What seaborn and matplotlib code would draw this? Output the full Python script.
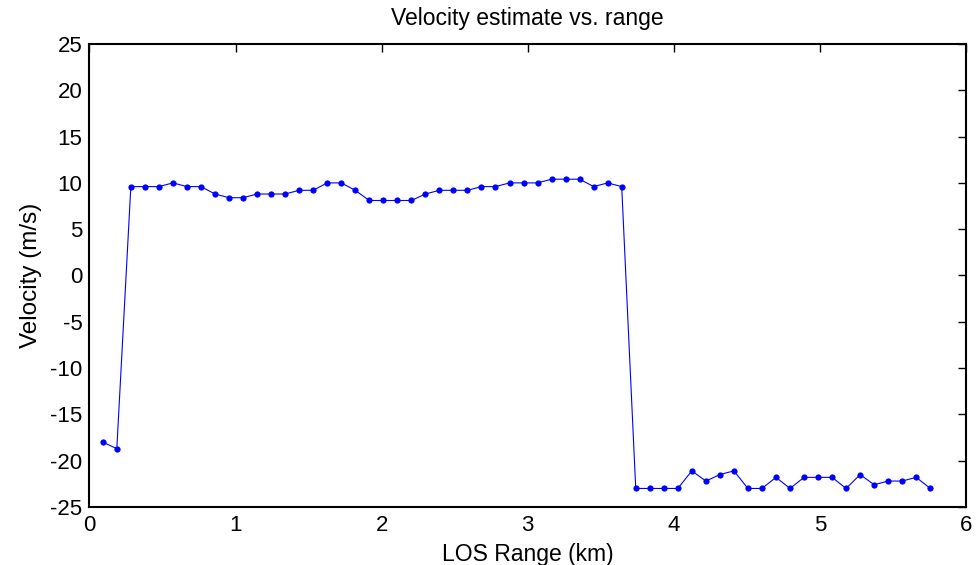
import matplotlib
matplotlib.use("Agg")
import matplotlib.pyplot as plt
import seaborn as sns
import pandas as pd

# LOS range (km) of each range gate
range_km = [0.091, 0.187, 0.283, 0.379, 0.475, 0.571, 0.667, 0.763, 0.859, 0.955,
            1.051, 1.147, 1.243, 1.339, 1.435, 1.531, 1.627, 1.723, 1.819, 1.915,
            2.011, 2.107, 2.203, 2.299, 2.395, 2.491, 2.587, 2.683, 2.779, 2.875,
            2.971, 3.067, 3.163, 3.259, 3.355, 3.451, 3.547, 3.643, 3.739, 3.835,
            3.931, 4.027, 4.123, 4.219, 4.315, 4.411, 4.507, 4.603, 4.699, 4.795,
            4.891, 4.987, 5.083, 5.179, 5.275, 5.371, 5.467, 5.563, 5.659, 5.755]

# Velocity estimate (m/s)
velocity = [-18.0, -18.7, 9.6, 9.6, 9.6, 10.0, 9.6, 9.6, 8.8, 8.4,
            8.4, 8.8, 8.8, 8.8, 9.2, 9.2, 10.0, 10.0, 9.2, 8.1,
            8.1, 8.1, 8.1, 8.8, 9.2, 9.2, 9.2, 9.6, 9.6, 10.0,
            10.0, 10.0, 10.4, 10.4, 10.4, 9.6, 10.0, 9.6, -23.0, -23.0,
            -23.0, -23.0, -21.1, -22.2, -21.5, -21.1, -23.0, -23.0, -21.8, -23.0,
            -21.8, -21.8, -21.8, -23.0, -21.5, -22.6, -22.2, -22.2, -21.8, -23.0]

x_ticks = [0, 1, 2, 3, 4, 5, 6]
y_ticks = [-25, -20, -15, -10, -5, 0, 5, 10, 15, 20, 25]

sns.set_style("white")
plt.rcParams['font.family'] = ['Liberation Sans', 'DejaVu Sans']
plt.rcParams['axes.unicode_minus'] = False
plt.rcParams['text.color'] = 'black'
plt.rcParams['axes.labelcolor'] = 'black'

df = pd.DataFrame({"range": range_km, "velocity": velocity})

fig = plt.figure(figsize=(9.76, 5.65), dpi=100)
ax = fig.add_axes([0.0917, 0.1027, 0.8981, 0.8194])

sns.lineplot(data=df, x="range", y="velocity", ax=ax, color="#0000ff",
             marker="o", markersize=4.5, markeredgewidth=0, linewidth=0.8,
             sort=False, estimator=None)

ax.set_xlim(0, 6)
ax.set_ylim(-25, 25)
ax.set_xticks(x_ticks)
ax.set_yticks(y_ticks)
ax.tick_params(direction="in", length=6, width=1, top=True, right=True,
               labelsize=16, colors="black")
ax.tick_params(axis="x", pad=6)
ax.tick_params(axis="y", pad=5)
for s in ax.spines.values():
    s.set_visible(True)
    s.set_color("black")
    s.set_linewidth(1.5)

ax.set_title("Velocity estimate vs. range", fontsize=16.5, pad=13.5, color="black")
ax.set_xlabel("LOS Range (km)", fontsize=16.5, labelpad=5)
ax.set_ylabel("Velocity (m/s)", fontsize=17.5, labelpad=6)

fig.savefig("out.png", dpi=100)
